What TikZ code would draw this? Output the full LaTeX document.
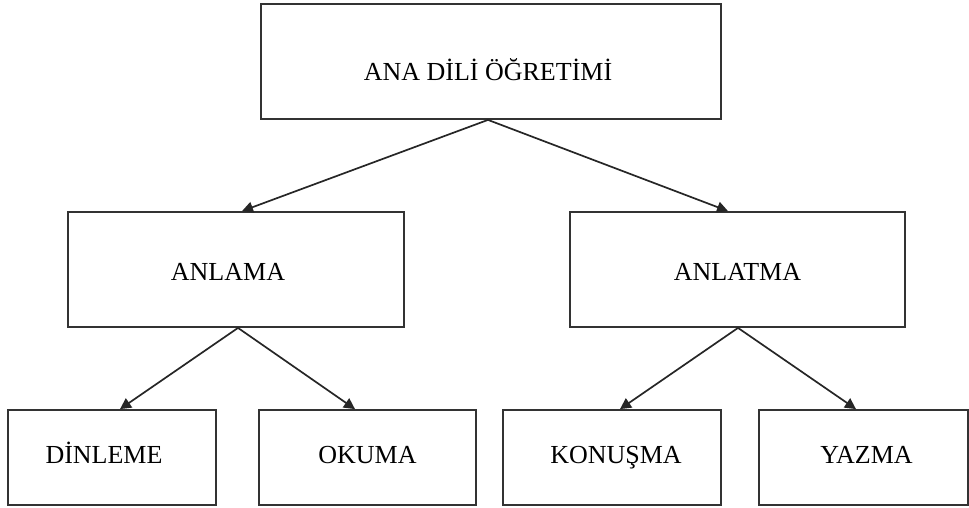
\documentclass[tikz,border=0pt]{standalone}
\usepackage{fontspec}
\setmainfont{Liberation Serif}
\usetikzlibrary{arrows.meta}
\begin{document}
\begin{tikzpicture}[x=1pt,y=-1pt,
  box/.style={draw=black!80,line width=1.8pt,rectangle,inner sep=0pt,
    font=\fontsize{26}{30}\selectfont,text depth=0pt},
  conn/.style={draw=black!85,line width=1.7pt,-{Triangle[length=11pt,width=11pt]},shorten >=0pt}]
\useasboundingbox (0,0) rectangle (969,508);
\node[box,minimum width=460pt,minimum height=115pt,text height=38pt] (top) at (491,61.5) {\hspace*{-6pt}ANA DİLİ ÖĞRETİMİ};
\node[box,minimum width=336pt,minimum height=115pt,text height=22pt] (anl) at (236,269.5) {\hspace*{-16pt}ANLAMA};
\node[box,minimum width=335pt,minimum height=115pt,text height=22pt] (ant) at (737.5,269.5) {ANLATMA};
\node[box,minimum width=208pt,minimum height=95pt,text height=12pt] (din) at (112,457.5) {\hspace*{-16pt}DİNLEME};
\node[box,minimum width=217pt,minimum height=95pt,text height=12pt] (oku) at (367.5,457.5) {OKUMA};
\node[box,minimum width=218pt,minimum height=95pt,text height=12pt] (kon) at (612,457.5) {\hspace*{8pt}KONUŞMA};
\node[box,minimum width=209pt,minimum height=95pt,text height=12pt] (yaz) at (863.5,457.5) {\hspace*{6pt}YAZMA};
\draw[conn] ([xshift=-3pt]top.south) -- ([xshift=6pt]anl.north);
\draw[conn] ([xshift=-3pt]top.south) -- ([xshift=-9.5pt]ant.north);
\draw[conn] ([xshift=2pt]anl.south) -- ([xshift=8pt]din.north);
\draw[conn] ([xshift=2pt]anl.south) -- ([xshift=-12.5pt]oku.north);
\draw[conn] ([xshift=0.5pt]ant.south) -- ([xshift=8pt]kon.north);
\draw[conn] ([xshift=0.5pt]ant.south) -- ([xshift=-7.5pt]yaz.north);
\end{tikzpicture}
\end{document}
